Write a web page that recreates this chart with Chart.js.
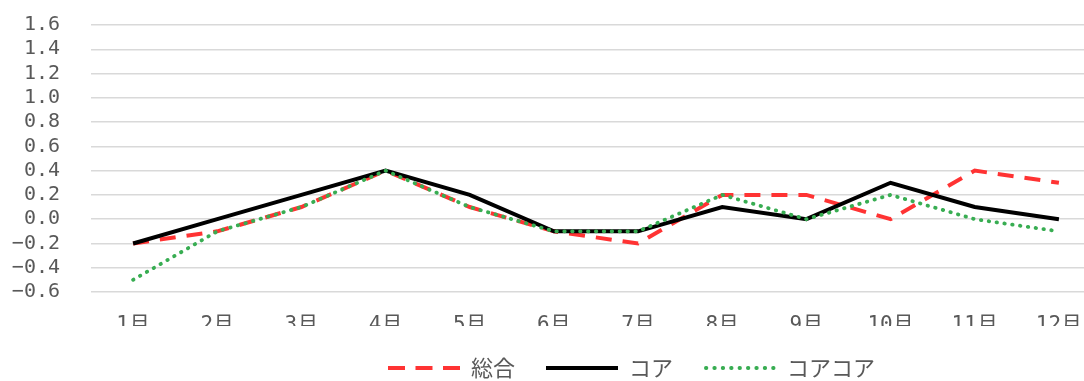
<!DOCTYPE html>
<html><head><meta charset="utf-8">
<script src="https://cdn.jsdelivr.net/npm/chart.js@4"></script>
<style>
html,body{margin:0;padding:0;overflow:hidden;background:#fff;width:1084px;height:381px}
#wrap{width:1110px;height:389px}
canvas{display:block}
</style></head>
<body><div id="wrap"><canvas id="c" width="1110" height="389"></canvas></div>
<script>
const months = ['1月','2月','3月','4月','5月','6月','7月','8月','9月','10月','11月','12月'];
const seriesNames = ['総合','コア','コアコア'];
const sogo = [-0.2,-0.1,0.1,0.4,0.1,-0.1,-0.2,0.2,0.2,0.0,0.4,0.3];
const core = [-0.2,0.0,0.2,0.4,0.2,-0.1,-0.1,0.1,0.0,0.3,0.1,0.0];
const coreCore = [-0.5,-0.1,0.1,0.4,0.1,-0.1,-0.1,0.2,0.0,0.2,0.0,-0.1];
const yMin = -0.6, yMax = 1.6, yStep = 0.2;

const textColor = '#595959';

// legend sample images (Chart.js draws them as the point style of each legend item)
function legendSample(color, width, dash, cap) {
  const cv = document.createElement('canvas');
  cv.width = 72; cv.height = 8;
  const g = cv.getContext('2d');
  g.strokeStyle = color; g.lineWidth = width; g.lineCap = cap || 'butt';
  g.setLineDash(dash);
  g.beginPath();
  const inset = cap === 'round' ? width / 2 : 0;
  g.moveTo(inset, 4); g.lineTo(72 - inset + 0.01, 4);
  g.stroke();
  return cv;
}

const legendShift = {
  id: 'legendShift',
  afterLayout(chart) {
    const lg = chart.legend;
    if (!lg) return;
    const d = 631.5 - (lg.left + lg.right) / 2;
    lg.left += d; lg.right += d;
  }
};

new Chart(document.getElementById('c'), {
  type: 'line',
  data: {
    labels: months,
    datasets: [
      { label: seriesNames[0], data: sogo, borderColor: '#FF3333', backgroundColor: '#FF3333',
        borderWidth: 4, borderDash: [16, 11], pointRadius: 0, order: 3, tension: 0, fill: false,
        pointStyle: legendSample('#FF3333', 4, [17, 10.5]) },
      { label: seriesNames[1], data: core, borderColor: '#000000', backgroundColor: '#000000',
        borderWidth: 4, pointRadius: 0, order: 2, tension: 0, fill: false,
        pointStyle: legendSample('#000000', 4, []) },
      { label: seriesNames[2], data: coreCore, borderColor: '#38AD52', backgroundColor: '#38AD52',
        borderWidth: 3.8, borderDash: [0.5, 7.4], borderCapStyle: 'round', pointRadius: 0, order: 1, tension: 0, fill: false,
        pointStyle: legendSample('#38AD52', 3.8, [0.5, 7.9], 'round') }
    ]
  },
  options: {
    responsive: false,
    animation: false,
    layout: { padding: { left: 12, right: 9, top: 25, bottom: 0 } },
    plugins: {
      tooltip: { enabled: false },
      legend: {
        position: 'bottom',
        labels: {
          usePointStyle: true,
          pointStyleWidth: 72,
          padding: 31,
          color: textColor,
          font: { family: "'Noto Sans CJK JP', sans-serif", size: 22 },
          sort: (a, b) => a.datasetIndex - b.datasetIndex
        }
      }
    },
    scales: {
      x: {
        offset: true,
        grid: { display: false, drawTicks: false },
        border: { display: false },
        ticks: { color: textColor, padding: 21, maxRotation: 0, autoSkip: false,
          font: { family: "'DejaVu Sans Mono', 'Noto Sans CJK JP', monospace", size: 21 } },
        afterFit(s) { s.height = 34; }
      },
      y: {
        min: yMin, max: yMax,
        grid: { color: '#D9D9D9', lineWidth: 1.5, drawTicks: false },
        border: { display: false },
        ticks: { stepSize: yStep, color: textColor, padding: 31, autoSkip: false,
          font: { family: "'DejaVu Sans Mono', monospace", size: 20 },
          callback: v => v.toFixed(1).replace('-', '−') },
        afterFit(s) { s.width = 79; s.paddingTop = 0; s.paddingBottom = 0; }
      }
    }
  },
  plugins: [legendShift]
});
</script>
</body></html>
